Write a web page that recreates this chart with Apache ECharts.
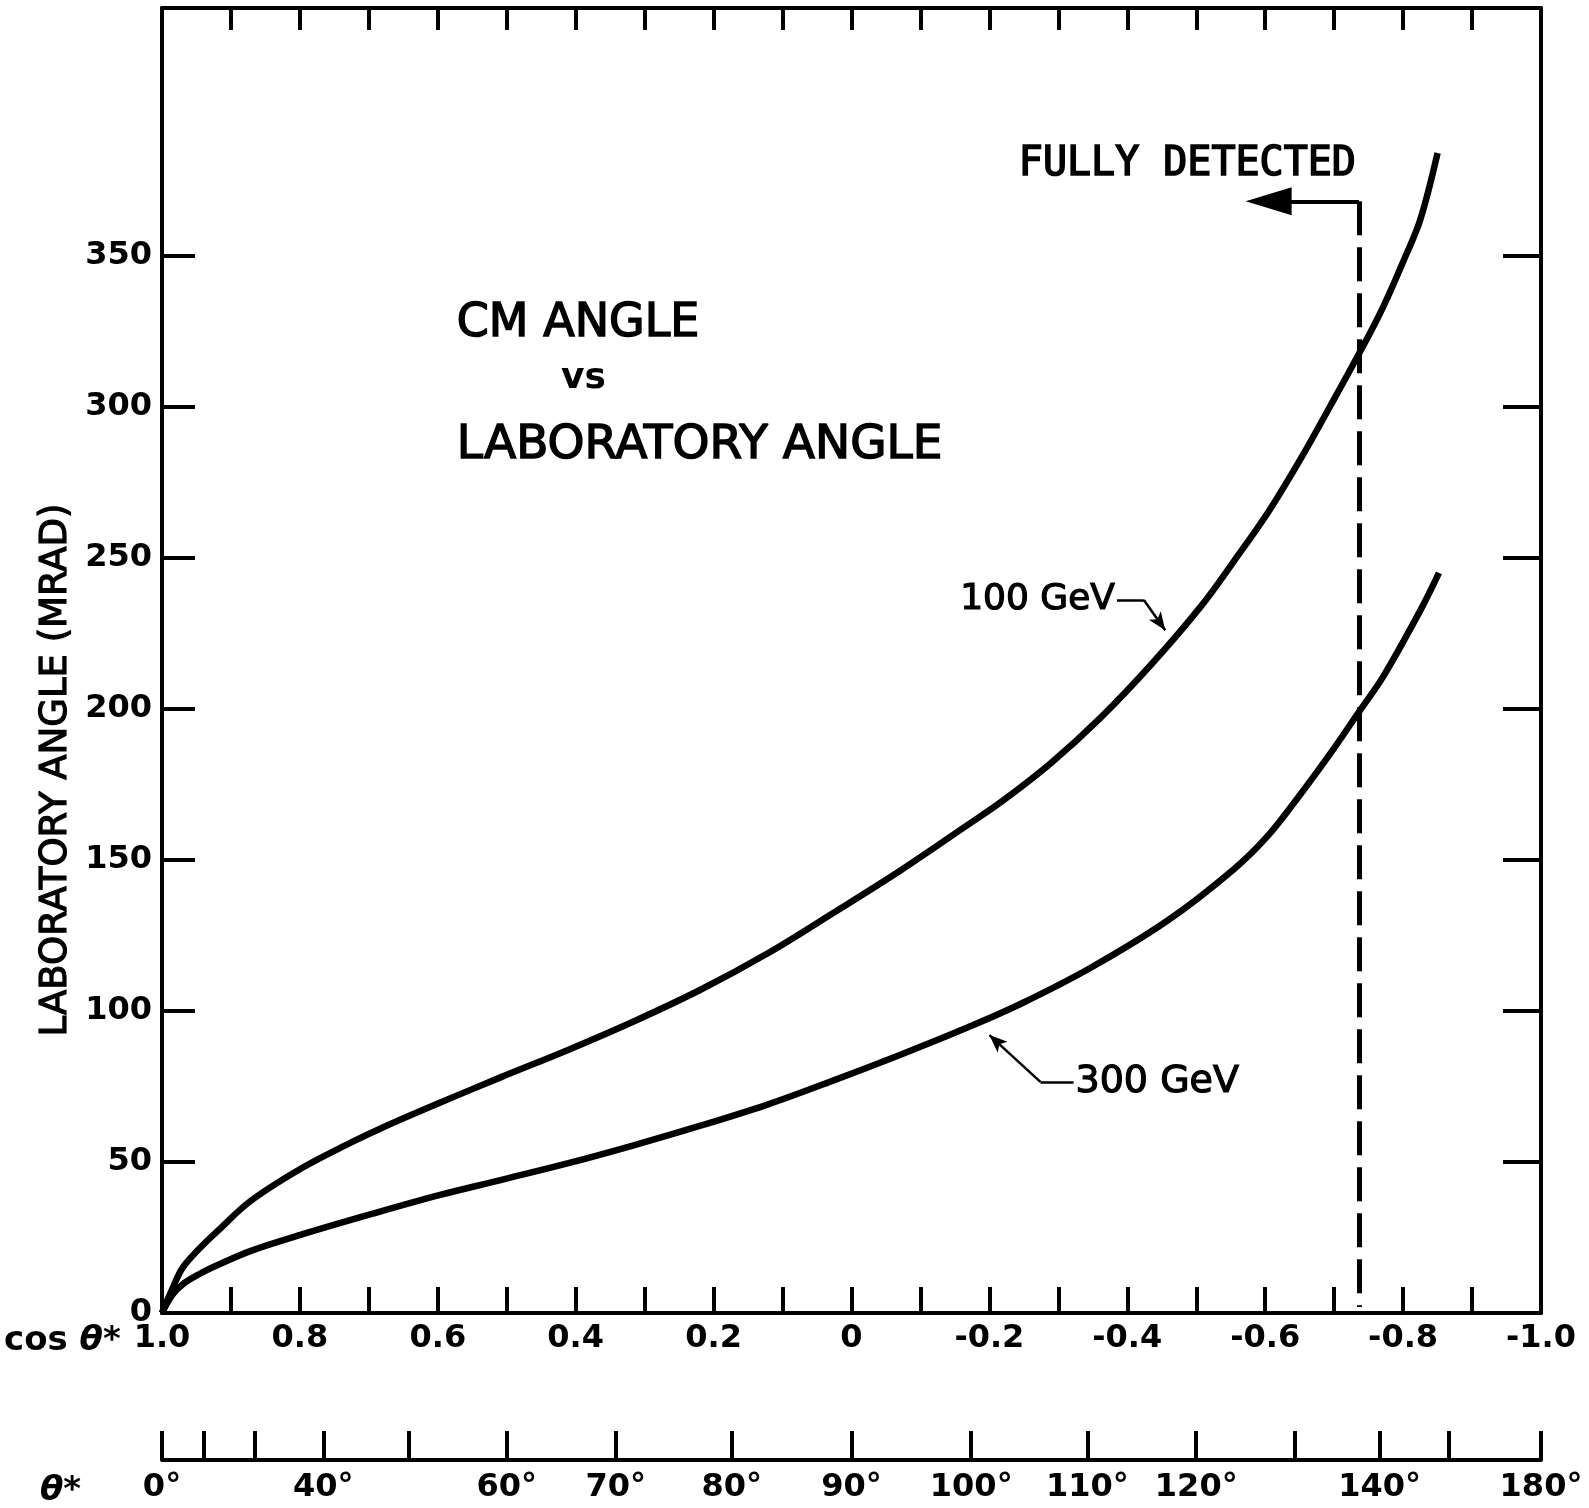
<!DOCTYPE html>
<html>
<head>
<meta charset="utf-8">
<title>CM angle vs laboratory angle</title>
<script src="https://cdn.jsdelivr.net/npm/echarts@6/dist/echarts.min.js"></script>
<style>
  html, body { margin: 0; padding: 0; background: #fff; }
  #chart { width: 1589px; height: 1508px; }
</style>
</head>
<body>
<div id="chart"></div>
<script>
// values: x = cos(theta*), y = laboratory angle (mrad)
var cos100 = [1.0, 0.985, 0.97, 0.945, 0.92, 0.872, 0.797, 0.727, 0.679, 0.598, 0.509, 0.412, 0.316,
    0.219, 0.122, 0.026, -0.071, -0.168, -0.216, -0.289, -0.361, -0.434, -0.507, -0.555,
    -0.604, -0.652, -0.695, -0.743, -0.772, -0.801, -0.825, -0.850];
var lab100 = [0, 8, 15, 21.5, 27, 37, 48, 56.3, 61.5, 69.5, 78, 87, 96.5,
    107, 119, 132.5, 146.5, 161.5, 169, 182, 197, 214.5, 234, 249,
    265, 283, 300.5, 320.5, 333.5, 348.5, 362, 384];

var cos300 = [1.0, 0.985, 0.97, 0.945, 0.92, 0.872, 0.797, 0.697, 0.598, 0.509, 0.412, 0.316, 0.219,
    0.122, 0.026, -0.071, -0.168, -0.245, -0.347, -0.459, -0.555, -0.604, -0.652,
    -0.700, -0.736, -0.772, -0.826, -0.852];
var lab300 = [0, 6, 9.5, 13, 15.8, 20.5, 26, 32.7, 39, 44, 49.5, 55.5, 62,
    69, 77, 85.5, 94.5, 102.3, 114.3, 130, 147, 158, 172,
    187, 199, 211, 233, 245];

// tick labels
var yTicks = [0, 50, 100, 150, 200, 250, 300, 350];
var cosLabels = [1, 0.8, 0.6, 0.4, 0.2, 0, -0.2, -0.4, -0.6, -0.8, -1];
var thetaTickDeg = [0, 20, 30, 40, 50, 60, 70, 80, 90, 100, 110, 120, 130, 140, 150, 180];
var thetaLabelDeg = [0, 40, 60, 70, 80, 90, 100, 110, 120, 140, 180];

// annotations (data coordinates)
var detectCos = -0.736;
var detectTop = 368;
var detectArrowEnd = -0.605;
var lead100 = [[-0.385, 236], [-0.424, 236], [-0.455, 226]];
var lead300 = [[-0.322, 76.5], [-0.274, 76.5], [-0.200, 92]];

var FONT = 'DejaVu Sans';
var INK = '#000';

function toCos(deg) {
    return Math.cos(deg * Math.PI / 180);
}
function zip(xs, ys) {
    return xs.map(function (x, i) { return [x, ys[i]]; });
}

var chart = echarts.init(document.getElementById('chart'));

var frameLine = { show: true, onZero: false, lineStyle: { color: INK, width: 4 } };
var tickStyle = { color: INK, width: 4 };

var option = {
    animation: false,
    backgroundColor: '#fff',
    grid: { left: 162, right: 48, top: 8, bottom: 195 },
    xAxis: [
        {
            // cos theta* scale
            type: 'value', min: -1, max: 1, inverse: true, position: 'bottom',
            interval: 0.1,
            axisLine: frameLine,
            axisTick: { show: true, inside: true, length: 26, lineStyle: tickStyle },
            axisLabel: {
                customValues: cosLabels,
                color: INK, fontFamily: FONT, fontWeight: 'bold', fontSize: 32, margin: 10,
                formatter: function (v) { return v === 0 ? '0' : v.toFixed(1); }
            },
            splitLine: { show: false }
        },
        {
            type: 'value', min: -1, max: 1, inverse: true, position: 'top',
            interval: 0.1,
            axisLine: frameLine,
            axisTick: { show: true, inside: true, length: 22, lineStyle: tickStyle },
            axisLabel: { show: false },
            splitLine: { show: false }
        },
        {
            // theta* scale, same positions as cos theta*
            type: 'value', min: -1, max: 1, inverse: true, position: 'bottom',
            offset: 147,
            axisLine: frameLine,
            axisTick: {
                show: true, inside: true, length: 29, lineStyle: tickStyle,
                customValues: thetaTickDeg.map(toCos)
            },
            axisLabel: {
                customValues: thetaLabelDeg.map(toCos),
                color: INK, fontFamily: FONT, fontWeight: 'bold', fontSize: 32, margin: 12,
                formatter: function (v) {
                    var c = Math.max(-1, Math.min(1, v));
                    return Math.round(Math.acos(c) * 180 / Math.PI) + '°';
                }
            },
            splitLine: { show: false }
        }
    ],
    yAxis: [
        {
            type: 'value', min: 0, max: 432, position: 'left',
            axisLine: frameLine,
            axisTick: { show: true, inside: true, length: 33, lineStyle: tickStyle, customValues: yTicks },
            axisLabel: {
                customValues: yTicks,
                color: INK, fontFamily: FONT, fontWeight: 'bold', fontSize: 32, margin: 10
            },
            splitLine: { show: false }
        },
        {
            type: 'value', min: 0, max: 432, position: 'right',
            axisLine: frameLine,
            axisTick: { show: true, inside: true, length: 38, lineStyle: tickStyle, customValues: yTicks.slice(1) },
            axisLabel: { show: false },
            splitLine: { show: false }
        }
    ],
    series: [
        {
            name: '100 GeV',
            type: 'line',
            xAxisIndex: 0, yAxisIndex: 0,
            data: zip(cos100, lab100),
            smooth: 0.35,
            showSymbol: false,
            silent: true,
            lineStyle: { color: INK, width: 6.5 },
            markLine: {
                silent: true,
                animation: false,
                symbol: ['none', 'none'],
                lineStyle: { color: INK, width: 2.5, type: 'solid' },
                label: { show: false },
                data: [
                    [
                        {
                            coord: lead100[0],
                            label: {
                                show: true, position: 'start', distance: 2,
                                formatter: '100 GeV',
                                color: INK, fontFamily: FONT, fontSize: 36,
                                textBorderColor: INK, textBorderWidth: 1.2
                            }
                        },
                        { coord: lead100[1] }
                    ],
                    [
                        { coord: lead100[1], symbol: 'none' },
                        { coord: lead100[2], symbol: 'arrow', symbolSize: [11, 18] }
                    ],
                    // FULLY DETECTED marker: dashed cut line and arrow
                    [
                        { coord: [detectCos, detectTop], symbol: 'none', lineStyle: { width: 5, type: [34, 12] } },
                        { coord: [detectCos, 2] }
                    ],
                    [
                        { coord: [detectCos, detectTop], symbol: 'none', lineStyle: { width: 4 } },
                        { coord: [detectArrowEnd, detectTop], symbol: 'triangle', symbolSize: [28, 46] }
                    ]
                ]
            }
        },
        {
            name: '300 GeV',
            type: 'line',
            xAxisIndex: 0, yAxisIndex: 0,
            data: zip(cos300, lab300),
            smooth: 0.35,
            showSymbol: false,
            silent: true,
            lineStyle: { color: INK, width: 6.5 },
            markLine: {
                silent: true,
                animation: false,
                symbol: ['none', 'none'],
                lineStyle: { color: INK, width: 2.5, type: 'solid' },
                label: { show: false },
                data: [
                    [
                        {
                            coord: lead300[0],
                            label: {
                                show: true, position: 'start', distance: 2,
                                formatter: '300 GeV',
                                color: INK, fontFamily: FONT, fontSize: 38,
                                textBorderColor: INK, textBorderWidth: 1.2
                            }
                        },
                        { coord: lead300[1] }
                    ],
                    [
                        { coord: lead300[1], symbol: 'none' },
                        { coord: lead300[2], symbol: 'arrow', symbolSize: [11, 18] }
                    ]
                ]
            }
        }
    ],
    graphic: [
        {
            type: 'text', left: 456, top: 300,
            style: { text: 'CM ANGLE', fill: INK, stroke: INK, lineWidth: 1.5, font: '46px "DejaVu Sans"' }
        },
        {
            type: 'text', left: 561, top: 361,
            style: { text: 'vs', fill: INK, font: 'bold 36px "DejaVu Sans"' }
        },
        {
            type: 'text', left: 456, top: 422,
            style: { text: 'LABORATORY ANGLE', fill: INK, stroke: INK, lineWidth: 1.5, font: '47px "DejaVu Sans"' }
        },
        {
            type: 'text', left: 1018, top: 144,
            style: { text: 'FULLY DETECTED', fill: INK, stroke: INK, lineWidth: 1.6, font: '40px "DejaVu Sans Mono"' }
        },
        {
            type: 'text', x: 56, y: 770, rotation: Math.PI / 2,
            style: {
                text: 'LABORATORY ANGLE (MRAD)', fill: INK, stroke: INK, lineWidth: 1.2,
                font: '37px "DejaVu Sans"', align: 'center', verticalAlign: 'middle'
            }
        },
        {
            type: 'text', left: 4, top: 1324,
            style: {
                text: '{a|cos }{b|θ*}', fill: INK,
                rich: {
                    a: { fontFamily: FONT, fontWeight: 'bold', fontSize: 34 },
                    b: { fontFamily: FONT, fontWeight: 'bold', fontStyle: 'italic', fontSize: 34 }
                }
            }
        },
        {
            type: 'text', left: 40, top: 1474,
            style: { text: 'θ*', fill: INK, font: 'italic bold 34px "DejaVu Sans"' }
        }
    ]
};

chart.setOption(option);
</script>
</body>
</html>
